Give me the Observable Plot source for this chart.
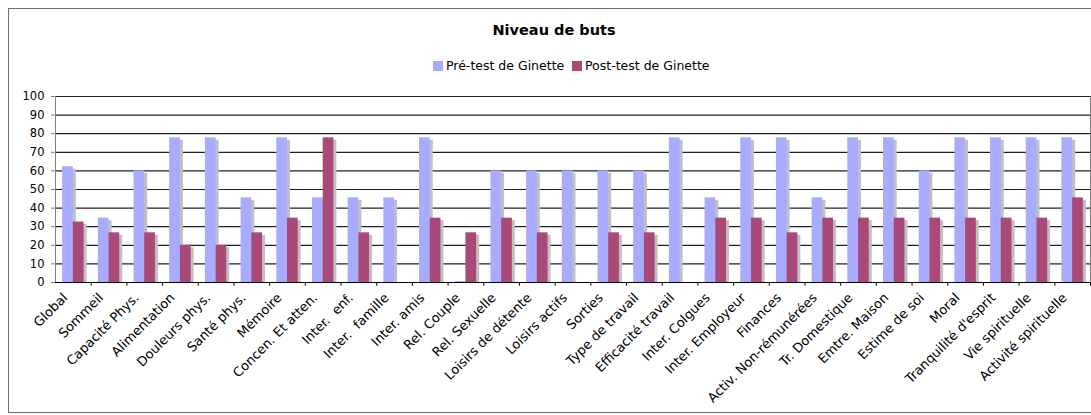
<!DOCTYPE html>
<html>
<head>
<meta charset="utf-8">
<script src="https://cdn.jsdelivr.net/npm/d3@7"></script>
<script src="https://cdn.jsdelivr.net/npm/@observablehq/plot@0.6"></script>
<style>
  html, body { margin: 0; padding: 0; background: #fff; overflow: hidden; }
  body { width: 1091px; height: 415px; position: relative; font-family: "DejaVu Sans", Verdana, sans-serif; }
  #frame { position: absolute; left: 8px; top: 8px; width: 1110px; height: 405px; border: 1px solid #707070; box-sizing: border-box; }
  #title { position: absolute; left: 0; top: 22px; width: 1108px; text-align: center; font-weight: bold; font-size: 14.5px; color: #000; }
  #legend { position: absolute; left: 0; top: 58px; width: 1091px; height: 16px; font-size: 12.5px; color: #000; white-space: nowrap; }
  #legend .item { position: absolute; top: 0; }
  #legend span.sw { display: inline-block; width: 10px; height: 10px; vertical-align: -1px; margin-right: 3px; }
  #chart { position: absolute; left: 0; top: 80px; }
  #chart svg text { font-family: "DejaVu Sans", Verdana, sans-serif; }
</style>
</head>
<body>
<div id="frame"></div>
<div id="title">Niveau de buts</div>
<div id="legend"></div>
<div id="chart"></div>
<script>
const categories = [
  "Global", "Sommeil", "Capacité Phys.", "Alimentation", "Douleurs phys.", "Santé phys.",
  "Mémoire", "Concen. Et atten.", "Inter.  enf.", "Inter.  famille", "Inter. amis", "Rel. Couple",
  "Rel. Sexuelle", "Loisirs de détente", "Loisirs actifs", "Sorties", "Type de travail",
  "Efficacité travail", "Inter. Colgues", "Inter. Employeur", "Finances", "Activ. Non-rémunérées",
  "Tr. Domestique", "Emtre. Maison", "Estime de soi", "Moral", "Tranquilité d'esprit",
  "Vie spirituelle", "Activité spirituelle"
];
const preValues = [
  62.2, 34.6, 60, 77.8, 77.8, 45.5,
  77.8, 45.5, 45.5, 45.5, 77.8, 0.5,
  60, 60, 60, 60, 60,
  77.8, 45.5, 77.8, 77.8, 45.5,
  77.8, 77.8, 60, 77.8, 77.8,
  77.8, 77.8
];
const postValues = [
  32.5, 26.7, 26.7, 20, 20, 26.7,
  34.6, 77.8, 26.7, 0, 34.6, 26.7,
  34.6, 26.7, 0, 26.7, 26.7,
  0, 34.6, 34.6, 26.7, 34.6,
  34.6, 34.6, 34.6, 34.6, 34.6,
  34.6, 45.5
];
const seriesNames = ["Pré-test de Ginette", "Post-test de Ginette"];
const seriesColors = ["#a9abff", "#a8497a"];
const yTicks = [0, 10, 20, 30, 40, 50, 60, 70, 80, 90, 100];

const table = categories.map((c, i) => ({category: c, pre: preValues[i], post: postValues[i]}));

const W = 1091, ML = 55, MR = 1;
const step = (W - ML - MR) / categories.length;
const bw = step * 0.3;

const legend = document.getElementById("legend");
const legendLeft = [433, 572];
seriesNames.forEach((n, i) => {
  const it = document.createElement("span");
  it.className = "item";
  it.style.left = legendLeft[i] + "px";
  it.innerHTML = `<span class="sw" style="background:${seriesColors[i]}"></span>${n}`;
  legend.appendChild(it);
});

const chart = Plot.plot({
  width: W,
  height: 335,
  marginLeft: ML,
  marginRight: MR,
  marginTop: 16,
  marginBottom: 133,
  style: {fontFamily: "DejaVu Sans, Verdana, sans-serif", fontSize: "12px", color: "#000", background: "transparent", overflow: "visible"},
  x: {domain: categories, paddingInner: 0.7, paddingOuter: 0.35, round: false, axis: null, label: null},
  y: {domain: [0, 100], label: null},
  marks: [
    Plot.ruleY(yTicks.filter(d => d > 0), {stroke: "#202020", strokeWidth: 1.2}),
    Plot.ruleX([categories[categories.length - 1]], {dx: step / 2, stroke: "#808080"}),
    Plot.barY(table, {filter: d => d.pre > 1, x: "category", y: "pre", dx: -bw / 2 + 3, insetTop: 2.5, fill: "#c0c0c0"}),
    Plot.barY(table, {filter: d => d.post > 0, x: "category", y: "post", dx: bw / 2 + 3, insetTop: 2.5, fill: "#c0c0c0"}),
    Plot.barY(table, {filter: d => d.pre > 0, x: "category", y: "pre", dx: -bw / 2, fill: seriesColors[0]}),
    Plot.barY(table, {filter: d => d.post > 0, x: "category", y: "post", dx: bw / 2, fill: seriesColors[1]}),
    Plot.ruleY([0], {stroke: "#000", strokeWidth: 1.2}),
    Plot.ruleX([categories[0]], {dx: -step / 2, stroke: "#808080", y1: 0, y2: 100}),
    Plot.ruleX(categories, {x: d => d, dx: step / 2, y1: 0, y2: -2, stroke: "#000"}),
    Plot.axisY({ticks: yTicks, tickSize: 4, tickPadding: 7, label: null, stroke: "#808080", fontSize: 11.5}),
    Plot.text(categories, {x: d => d, y: 0, text: d => d, rotate: -45, textAnchor: "end", lineAnchor: "bottom", dx: -5, dy: 16, fontSize: 13, fill: "#000"})
  ]
});
document.getElementById("chart").appendChild(chart);
</script>
</body>
</html>
